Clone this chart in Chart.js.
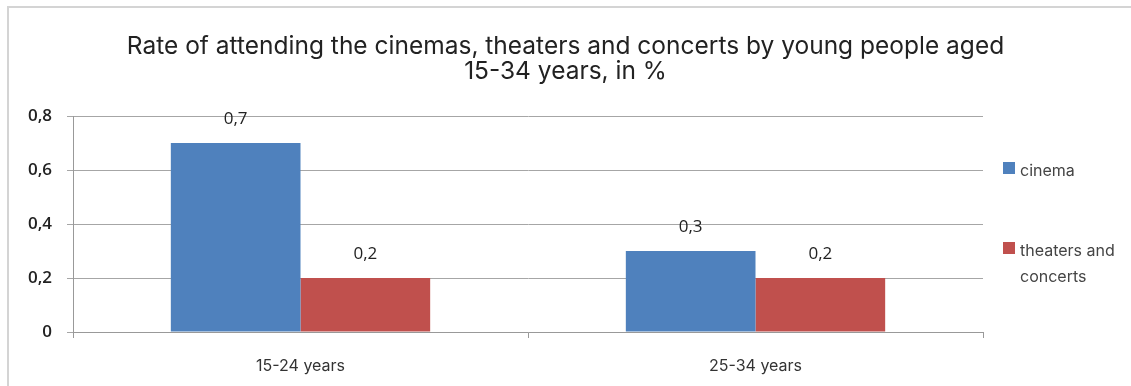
<!DOCTYPE html>
<html>
<head>
<meta charset="utf-8">
<script src="https://cdn.jsdelivr.net/npm/chart.js@4.4.1/dist/chart.umd.min.js"></script>
<style>
  body { margin: 0; background: #fff; }
  #wrap { position: relative; width: 1131px; height: 386px; }
  #frame { position: absolute; left: 7px; top: 6px; right: 0; bottom: 0;
           border-top: 2px solid #d4d4d4; border-left: 2px solid #d4d4d4; pointer-events: none; }
</style>
</head>
<body>
<div id="wrap">
  <canvas id="chart" width="1131" height="386"></canvas>
  <div id="frame"></div>
</div>
<script>
const categories = ['15-24 years', '25-34 years'];
const seriesNames = ['cinema', ['theaters and', 'concerts']];
const cinema = [0.7, 0.3];
const theaters = [0.2, 0.2];
const yTicks = [0, 0.2, 0.4, 0.6, 0.8];
const titleLines = ['Rate of attending the cinemas, theaters and concerts by young people aged', '15-34 years, in %'];

const colors = ['#4F81BD', '#C0504D'];
const fmt = v => v.toFixed(1).replace('.', ',').replace(/^0,0$/, '0');

// title centred on the whole canvas, not just the plot
const topTitle = {
  id: 'topTitle',
  afterDraw(chart) {
    const ctx = chart.ctx;
    ctx.save();
    ctx.font = '24.5px Inter';
    ctx.fillStyle = '#222';
    ctx.textAlign = 'center';
    ctx.textBaseline = 'middle';
    titleLines.forEach((t, i) => ctx.fillText(t, chart.width / 2, 47 + i * 25));
    ctx.restore();
  }
};

// value labels above the bars
const valueLabels = {
  id: 'valueLabels',
  afterDatasetsDraw(chart) {
    const ctx = chart.ctx;
    ctx.save();
    ctx.font = '17px "Open Sans"';
    ctx.fillStyle = '#222';
    ctx.textAlign = 'center';
    ctx.textBaseline = 'middle';
    chart.data.datasets.forEach((ds, i) => {
      chart.getDatasetMeta(i).data.forEach((bar, j) => {
        ctx.fillText(fmt(ds.data[j]), bar.x, bar.y - 24);
      });
    });
    ctx.restore();
  }
};

// legend on the right, wrapping like the original
const sideLegend = {
  id: 'sideLegend',
  afterDraw(chart) {
    const ctx = chart.ctx;
    const x = chart.chartArea.right + 20;
    let y = 167;
    ctx.save();
    ctx.font = '16px Inter';
    ctx.textBaseline = 'middle';
    chart.data.datasets.forEach((ds, i) => {
      const lines = [].concat(seriesNames[i]);
      ctx.fillStyle = ds.backgroundColor;
      ctx.fillRect(x, y - 5, 12, 12);
      ctx.fillStyle = '#444';
      lines.forEach((t, k) => ctx.fillText(t, x + 17, y + 4 + k * 26));
      y += 80;
    });
    ctx.restore();
  }
};

new Chart(document.getElementById('chart'), {
  type: 'bar',
  data: {
    labels: categories,
    datasets: [
      { label: 'cinema', data: cinema, backgroundColor: colors[0] },
      { label: 'theaters and concerts', data: theaters, backgroundColor: colors[1] }
    ]
  },
  options: {
    responsive: false,
    animation: false,
    layout: { padding: { left: 0, right: 148, top: 116, bottom: 0 } },
    datasets: { bar: { categoryPercentage: 0.57, barPercentage: 1 } },
    plugins: {
      legend: { display: false },
      tooltip: { enabled: false },
      title: { display: false }
    },
    scales: {
      x: {
        grid: { offset: true, drawOnChartArea: false, drawTicks: true, tickLength: 6, color: '#999' },
        border: { color: '#999' },
        ticks: { color: '#333', padding: 19, font: { family: 'Inter', size: 16 } },
        afterFit: s => { s.height = 54; }
      },
      y: {
        min: 0, max: 0.8,
        afterBuildTicks: s => { s.ticks = yTicks.map(v => ({ value: v })); },
        grid: { color: '#a6a6a6', tickLength: 6 },
        border: { color: '#999' },
        ticks: { color: '#222', padding: 15, font: { family: 'Open Sans', size: 17, weight: '600' },
                 callback: v => fmt(v) },
        afterFit: s => { s.width = 73; }
      }
    }
  },
  plugins: [topTitle, valueLabels, sideLegend]
});
</script>
</body>
</html>
